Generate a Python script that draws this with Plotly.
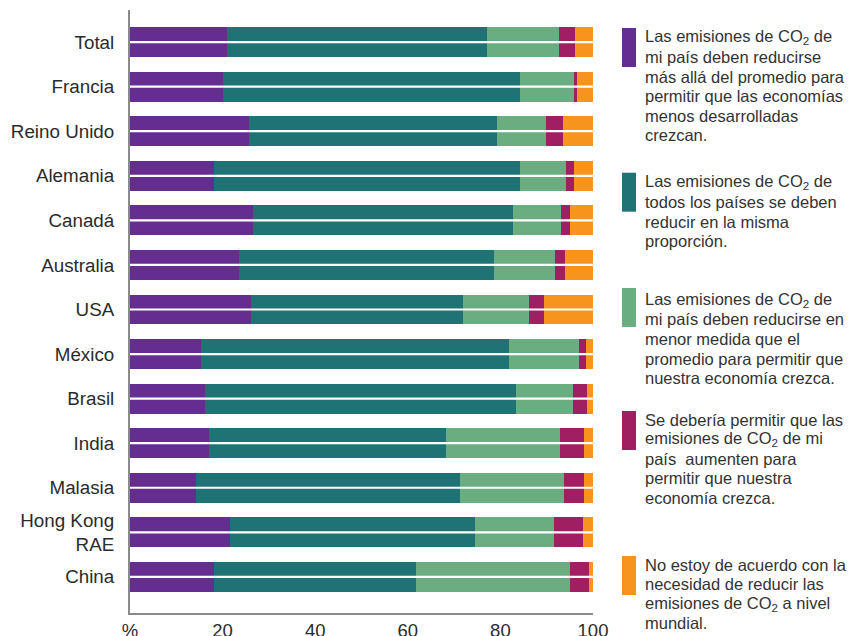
import plotly.graph_objects as go

# ---------------- data ----------------
countries = ["Total", "Francia", "Reino Unido", "Alemania", "Canadá", "Australia", "USA",
             "México", "Brasil", "India", "Malasia", "Hong Kong<br>RAE", "China"]

reduce_more = [21.0, 20.1, 25.7, 18.1, 26.6, 23.5, 26.1, 15.3, 16.2, 17.1, 14.3, 21.6, 18.1]
reduce_same = [56.0, 64.1, 53.6, 66.1, 56.1, 55.1, 45.8, 66.6, 67.2, 51.2, 57.0, 52.9, 43.7]
reduce_less = [15.7, 11.9, 10.5, 10.0, 10.4, 13.2, 14.3, 15.1, 12.3, 24.6, 22.4, 17.1, 33.2]
increase    = [3.5, 0.4, 3.7, 1.7, 1.9, 2.2, 3.2, 1.5, 3.0, 5.2, 4.4, 6.2, 4.1]
disagree    = [3.8, 3.5, 6.5, 4.1, 5.0, 6.0, 10.6, 1.5, 1.3, 1.9, 1.9, 2.2, 0.9]

series_values = [reduce_more, reduce_same, reduce_less, increase, disagree]

legend_lines = [
    ["Las emisiones de CO<sub>2</sub> de", "mi país deben reducirse", "más allá del promedio para",
     "permitir que las economías", "menos desarrolladas", "crezcan."],
    ["Las emisiones de CO<sub>2</sub> de", "todos los países se deben", "reducir en la misma",
     "proporción."],
    ["Las emisiones de CO<sub>2</sub> de", "mi país deben reducirse en", "menor medida que el",
     "promedio para permitir que", "nuestra economía crezca."],
    ["Se debería permitir que las", "emisiones de CO<sub>2</sub> de mi", "país  aumenten para",
     "permitir que nuestra", "economía crezca."],
    ["No estoy de acuerdo con la", "necesidad de reducir las", "emisiones de CO<sub>2</sub> a nivel",
     "mundial."],
]

x_tickvals = [0, 20, 40, 60, 80, 100]
x_ticktext = ["%", "20", "40", "60", "80", "100"]

# ---------------- style ----------------
colors = ["#662D91", "#207375", "#69AD80", "#A01F62", "#F7941D"]
FONT = "Liberation Sans"
TXT = "#2b2b2b"
W, H = 857, 636
ML, MR, MT, MB = 130, 264, 10, 23
PW, PH = W - ML - MR, H - MT - MB

def px_x(px):
    return (px - ML) / PW

def px_y(py):
    return (H - MB - py) / PH

fig = go.Figure()
for vals, col in zip(series_values, colors):
    fig.add_trace(go.Bar(
        y=countries, x=vals, orientation="h",
        marker=dict(color=col, line=dict(width=0)),
        showlegend=False, hoverinfo="x+y",
    ))

# white divider through the middle of each bar
lx, ly = [], []
for c in countries:
    lx += [0, 100, None]
    ly += [c, c, None]
fig.add_trace(go.Scatter(x=lx, y=ly, mode="lines", line=dict(color="white", width=2.2),
                         hoverinfo="skip", showlegend=False))

# custom legend
rect_tops = [28, 172.7, 288, 411, 556]
first_baselines = [43, 188, 305.5, 425, 570]
LH = 19.5
shapes = []
annotations = []
for i, (col, lines) in enumerate(zip(colors, legend_lines)):
    shapes.append(dict(type="rect", xref="paper", yref="paper",
                       x0=px_x(622), x1=px_x(636),
                       y0=px_y(rect_tops[i]), y1=px_y(rect_tops[i] + 39),
                       fillcolor=col, line=dict(width=0)))
    for j, t in enumerate(lines):
        yb = first_baselines[i] + j * LH
        annotations.append(dict(text=t, xref="paper", yref="paper",
                                x=px_x(643), y=px_y(yb - 5.5),
                                xanchor="left", yanchor="middle", showarrow=False,
                                align="left",
                                font=dict(family=FONT, size=16.5, color="#333333")))

fig.update_layout(
    template="none",
    width=W, height=H,
    margin=dict(l=ML, r=MR, t=MT, b=MB, pad=0),
    barmode="stack", bargap=0.327,
    plot_bgcolor="white", paper_bgcolor="white",
    font=dict(family=FONT, size=18, color=TXT),
    shapes=shapes, annotations=annotations,
    xaxis=dict(range=[0, 100], tickvals=x_tickvals, ticktext=x_ticktext,
               showgrid=False, zeroline=False, showline=True, linecolor="#8a8a8a",
               linewidth=2, ticks="", tickfont=dict(size=18.5, color=TXT), automargin=False,
               ticklabelstandoff=0),
    yaxis=dict(type="category", categoryorder="array", categoryarray=countries,
               range=[12.81, -0.72], showgrid=False, zeroline=False, showline=True,
               linecolor="#8a8a8a", linewidth=2, ticks="",
               tickfont=dict(size=18.8, color=TXT), automargin=False,
               ticklabelstandoff=10),
)

fig.write_html("out.html", config={"displayModeBar": False},
               post_script="document.body.style.margin='0';document.body.style.overflow='hidden';")
